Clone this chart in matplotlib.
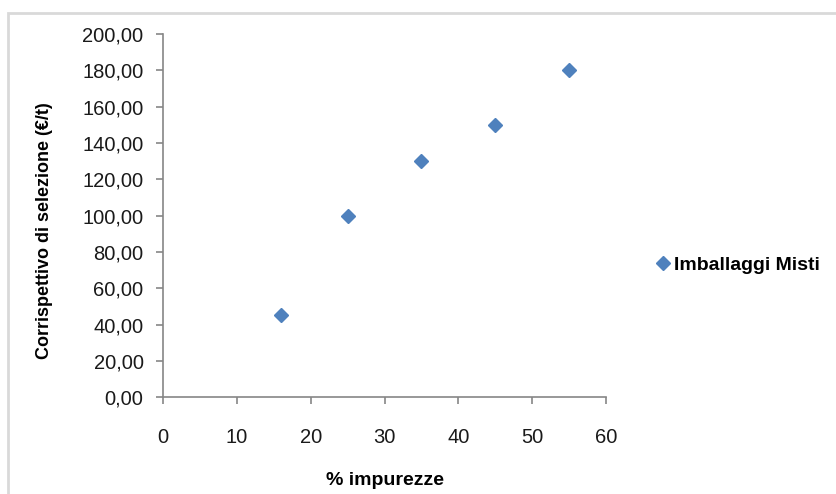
import matplotlib
matplotlib.use("Agg")
import matplotlib.pyplot as plt
from matplotlib.patches import Rectangle
from matplotlib.ticker import FuncFormatter

# data
impurezze = [16, 25, 35, 45, 55]
corrispettivo = [45, 100, 130, 150, 180]
series_name = "Imballaggi Misti"

plt.rcParams['font.family'] = ['Liberation Sans', 'DejaVu Sans']

fig = plt.figure(figsize=(8.36, 4.94), dpi=100)
ax = fig.add_axes([0.195, 0.196, 0.530, 0.735])

# light frame around the chart area
fig.patches.append(Rectangle((0.0096, -0.05), 1.2, 1.024, transform=fig.transFigure,
                             fill=False, edgecolor='#d9d9d9', linewidth=2))

ax.plot(impurezze, corrispettivo, linestyle='none', marker='D', markersize=7.5,
        color='#4f81bd', label=series_name)

ax.set_xlim(0, 60)
ax.set_ylim(0, 200)
ax.set_xticks(range(0, 61, 10))
ax.set_yticks(range(0, 201, 20))
ax.yaxis.set_major_formatter(FuncFormatter(lambda v, p: f"{v:.2f}".replace('.', ',')))

for side in ['top', 'right']:
    ax.spines[side].set_visible(False)
for side in ['left', 'bottom']:
    ax.spines[side].set_color('#868686')
    ax.spines[side].set_linewidth(1.2)
ax.tick_params(direction='out', length=5, width=1.2, color='#868686',
               labelsize=14.5, labelcolor='#1a1a1a', pad=9)
ax.tick_params(axis='x', pad=17)

ax.set_xlabel("% impurezze", fontsize=14, fontweight='bold')
ax.xaxis.set_label_coords(0.5, -0.205)
ax.set_ylabel("Corrispettivo di selezione (€/t)", fontsize=13, fontweight='bold')
ax.yaxis.set_label_coords(-0.248, 0.46)

ax.legend(loc='center left', bbox_to_anchor=(0.762, 0.463), bbox_transform=fig.transFigure,
          frameon=False, handletextpad=0.1, handlelength=0.9,
          prop={'weight': 'bold', 'size': 14})

fig.savefig("out.png", dpi=100)
